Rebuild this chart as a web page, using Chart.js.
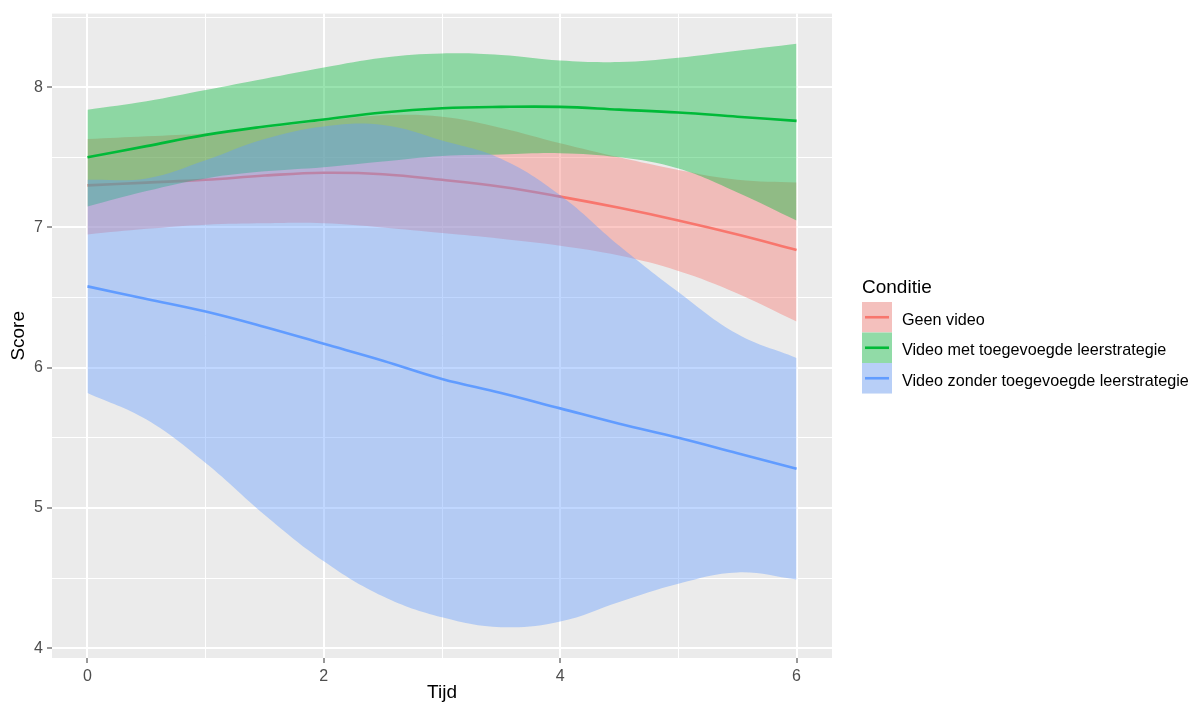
<!DOCTYPE html>
<html>
<head>
<meta charset="utf-8">
<script src="https://cdn.jsdelivr.net/npm/chart.js@4/dist/chart.umd.min.js"></script>
<style>
  html, body { margin: 0; padding: 0; background: #fff; }
  canvas { display: block; }
</style>
</head>
<body>
<canvas id="grafiek" width="1199" height="708"></canvas>
<script>
// =============================================================
// DATA
// =============================================================
const tijd = [0, 0.5, 1, 1.5, 2, 2.5, 3, 3.5, 4, 4.5, 5, 5.5, 6];

const geenVideo      = [7.30, 7.32, 7.34, 7.37, 7.39, 7.38, 7.34, 7.29, 7.22, 7.14, 7.05, 6.95, 6.84];
const geenVideoBoven = [7.63, 7.65, 7.67, 7.71, 7.76, 7.80, 7.79, 7.71, 7.60, 7.50, 7.41, 7.34, 7.32];
const geenVideoOnder = [6.95, 6.99, 7.02, 7.03, 7.03, 7.00, 6.96, 6.92, 6.87, 6.80, 6.69, 6.53, 6.33];

const metStrategie      = [7.50, 7.58, 7.66, 7.72, 7.77, 7.82, 7.85, 7.86, 7.86, 7.84, 7.82, 7.79, 7.76];
const metStrategieBoven = [7.84, 7.90, 7.98, 8.06, 8.14, 8.21, 8.24, 8.23, 8.19, 8.18, 8.21, 8.26, 8.31];
const metStrategieOnder = [7.15, 7.26, 7.35, 7.40, 7.43, 7.47, 7.51, 7.52, 7.53, 7.50, 7.42, 7.25, 7.05];

const zonderStrategie      = [6.58, 6.49, 6.40, 6.29, 6.17, 6.05, 5.92, 5.82, 5.71, 5.60, 5.50, 5.39, 5.28];
const zonderStrategieBoven = [7.34, 7.35, 7.48, 7.63, 7.72, 7.73, 7.62, 7.49, 7.23, 6.87, 6.54, 6.24, 6.07];
const zonderStrategieOnder = [5.82, 5.63, 5.32, 4.95, 4.62, 4.37, 4.22, 4.15, 4.19, 4.33, 4.46, 4.54, 4.49];

const condities = ["Geen video", "Video met toegevoegde leerstrategie", "Video zonder toegevoegde leerstrategie"];
const scoreTicks = [4, 5, 6, 7, 8];
const tijdTicks = [0, 2, 4, 6];

// =============================================================
// OPMAAK
// =============================================================
const FONT = "'Liberation Sans', Arial, sans-serif";
const kleuren = ["#F8766D", "#00BA38", "#619CFF"];
const banden = ["rgba(248,118,109,0.4)", "rgba(0,186,56,0.4)", "rgba(97,156,255,0.4)"];

function punten(ys) {
  return tijd.map((t, i) => ({ x: t, y: ys[i] }));
}

function groep(idx, lijn, boven, onder) {
  const basis = idx * 3;
  const volgorde = 20 - idx * 3; // ggplot: per groep eerst band, dan lijn
  const glad = { pointRadius: 0, tension: 0.4 };
  return [
    { label: "", data: punten(boven), borderColor: "rgba(0,0,0,0)", borderWidth: 0, backgroundColor: banden[idx],
      fill: basis + 1, order: volgorde, ...glad },
    { label: "", data: punten(onder), borderColor: "rgba(0,0,0,0)", borderWidth: 0,
      fill: false, order: volgorde - 1, ...glad },
    { label: condities[idx], data: punten(lijn), borderColor: kleuren[idx], borderWidth: 2.6, sleutel: banden[idx],
      fill: false, order: volgorde - 2, ...glad }
  ];
}

const datasets = [
  ...groep(0, geenVideo, geenVideoBoven, geenVideoOnder),
  ...groep(1, metStrategie, metStrategieBoven, metStrategieOnder),
  ...groep(2, zonderStrategie, zonderStrategieBoven, zonderStrategieOnder)
];

// grijs paneel zoals theme_gray
const panelAchtergrond = {
  id: "panelAchtergrond",
  beforeDraw(chart) {
    const { ctx, chartArea: a } = chart;
    ctx.save();
    ctx.fillStyle = "#EBEBEB";
    ctx.fillRect(a.left, a.top, a.right - a.left, a.bottom - a.top);
    ctx.restore();
  }
};

// legenda rechts in ggplot-stijl
const ggLegenda = {
  id: "ggLegenda",
  afterDraw(chart) {
    const ctx = chart.ctx;
    const x0 = 862, y0 = 302, sleutel = 30, rij = 30.5;
    ctx.save();
    ctx.fillStyle = "#000";
    ctx.font = "19px " + FONT;
    ctx.textBaseline = "alphabetic";
    ctx.fillText("Conditie", x0, 293);
    const lijnen = chart.data.datasets.filter(d => d.label);
    lijnen.forEach((d, i) => {
      const y = y0 + i * rij;
      ctx.fillStyle = "#F2F2F2";
      ctx.fillRect(x0, y, sleutel, rij);
      ctx.fillStyle = d.sleutel;
      ctx.fillRect(x0, y, sleutel, rij);
      ctx.strokeStyle = d.borderColor;
      ctx.lineWidth = 2.6;
      ctx.beginPath();
      ctx.moveTo(x0 + 3, y + rij / 2);
      ctx.lineTo(x0 + sleutel - 3, y + rij / 2);
      ctx.stroke();
      ctx.fillStyle = "#000";
      ctx.font = "16.2px " + FONT;
      ctx.textBaseline = "middle";
      ctx.fillText(d.label, x0 + 40, y + rij / 2 + 3);
    });
    ctx.restore();
  }
};

const isHoofd = (c, lijst) => c.tick && lijst.includes(c.tick.value);

new Chart(document.getElementById("grafiek"), {
  type: "line",
  data: { datasets },
  options: {
    responsive: false,
    animation: false,
    devicePixelRatio: 1,
    layout: { padding: { left: 0, right: 367, top: 10, bottom: 0 } },
    plugins: { legend: { display: false }, tooltip: { enabled: false } },
    scales: {
      x: {
        type: "linear",
        min: -0.3, max: 6.3,
        afterBuildTicks: ax => { ax.ticks = [0, 1, 2, 3, 4, 5, 6].map(v => ({ value: v })); },
        afterFit: ax => { ax.height = 50; },
        border: { display: false },
        grid: {
          color: "#FFFFFF",
          lineWidth: c => isHoofd(c, tijdTicks) ? 2 : 1,
          tickColor: c => isHoofd(c, tijdTicks) ? "#333333" : "rgba(0,0,0,0)",
          tickLength: 5, tickWidth: 1
        },
        ticks: {
          autoSkip: false, maxRotation: 0, padding: 4,
          color: "#4D4D4D", font: { family: FONT, size: 16 },
          callback: v => tijdTicks.includes(v) ? String(v) : ""
        },
        title: { display: true, text: "Tijd", color: "#000", font: { family: FONT, size: 19 }, padding: { top: 0, bottom: 4 } }
      },
      y: {
        type: "linear",
        min: 3.93, max: 8.525,
        afterBuildTicks: ax => { ax.ticks = [4, 4.5, 5, 5.5, 6, 6.5, 7, 7.5, 8, 8.5].map(v => ({ value: v })); },
        afterFit: ax => { ax.width = 52; },
        border: { display: false },
        grid: {
          color: "#FFFFFF",
          lineWidth: c => isHoofd(c, scoreTicks) ? 2 : 1,
          tickColor: c => isHoofd(c, scoreTicks) ? "#333333" : "rgba(0,0,0,0)",
          tickLength: 5, tickWidth: 1
        },
        ticks: {
          autoSkip: false, padding: 4,
          color: "#4D4D4D", font: { family: FONT, size: 16 },
          callback: v => scoreTicks.includes(v) ? String(v) : ""
        },
        title: { display: true, text: "Score", color: "#000", font: { family: FONT, size: 19 }, padding: { top: 7, bottom: 0 } }
      }
    }
  },
  plugins: [panelAchtergrond, ggLegenda]
});
</script>
</body>
</html>
